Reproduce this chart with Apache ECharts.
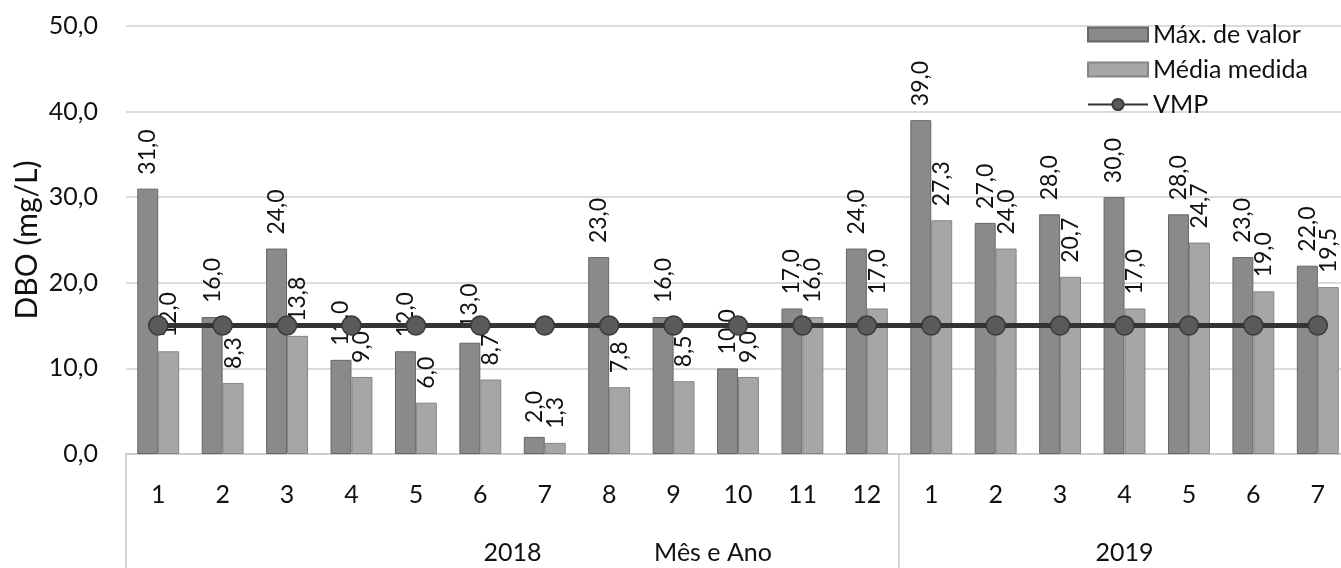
<!DOCTYPE html>
<html>
<head>
<meta charset="utf-8">
<script src="https://cdn.jsdelivr.net/npm/echarts@6/dist/echarts.min.js"></script>
<style>
html,body{margin:0;padding:0;background:#fff;}
#c{width:1341px;height:568px;}
</style>
</head>
<body>
<div id="c"></div>
<script>
// ---- data ----
const months = ['1','2','3','4','5','6','7','8','9','10','11','12','1','2','3','4','5','6','7'];
const years = ['2018','2018','2018','2018','2018','2018','2018','2018','2018','2018','2018','2018','2019','2019','2019','2019','2019','2019','2019'];
const maxValor = [31.0,16.0,24.0,11.0,12.0,13.0,2.0,23.0,16.0,10.0,17.0,24.0,39.0,27.0,28.0,30.0,28.0,23.0,22.0];
const mediaMedida = [12.0,8.3,13.8,9.0,6.0,8.7,1.3,7.8,8.5,9.0,16.0,17.0,27.3,24.0,20.7,17.0,24.7,19.0,19.5];
const vmp = [15,15,15,15,15,15,15,15,15,15,15,15,15,15,15,15,15,15,15];
const yTicks = [0,10,20,30,40,50];

// year groups derived from years array
const groups = [];
years.forEach((y,i)=>{
  if(!groups.length || groups[groups.length-1].year!==y) groups.push({year:y,start:i,count:1});
  else groups[groups.length-1].count++;
});
const groupCenters = groups.map(g=>g.start+g.count/2);
const groupBounds = groups.map(g=>g.start);

const FONT = 'Lato';
const fmt = v => Number(v).toFixed(1).replace('.', ',');

const chart = echarts.init(document.getElementById('c'), null, {renderer:'canvas'});
const labelCfg = {
  show:true, position:'top', rotate:90, align:'left', verticalAlign:'middle',
  distance:14, color:'#111', fontFamily:FONT, fontSize:23,
  formatter: p => fmt(p.value)
};
chart.setOption({
  animation:false,
  textStyle:{fontFamily:FONT},
  grid:{left:126, right:-9, top:26, bottom:114, containLabel:false, outerBoundsMode:'none'},
  legend:{
    orient:'vertical', left:1082, top:17, itemGap:10,
    itemWidth:60, itemHeight:14,
    textStyle:{fontFamily:FONT, fontSize:25, color:'#111', lineHeight:25},
    data:[{name:'Máx. de valor', icon:'rect'},{name:'Média medida', icon:'rect'},{name:'VMP'}]
  },
  xAxis:[
    {
      type:'category', data:months, gridIndex:0,
      axisLine:{show:true, lineStyle:{color:'#c8c8c8', width:1.5}},
      axisTick:{show:false},
      axisLabel:{color:'#111', fontFamily:FONT, fontSize:25, margin:28, interval:0},
      splitLine:{show:false}
    },
    {
      type:'value', min:0, max:years.length, gridIndex:0, position:'bottom',
      axisLine:{show:false},
      axisTick:{show:true, customValues:groupBounds, length:116, lineStyle:{color:'#c8c8c8', width:1.5}},
      axisLabel:{show:true, customValues:groupCenters, margin:86, color:'#111', fontFamily:FONT, fontSize:25,
        formatter: v => { const g = groups.find(gg=>Math.abs(gg.start+gg.count/2 - v)<1e-6); return g?g.year:''; }},
      splitLine:{show:false},
      name:'Mês e Ano', nameLocation:'middle', nameGap:86, nameMoveOverlap:false,
      nameTextStyle:{color:'#111', fontFamily:FONT, fontSize:25, verticalAlign:'top', padding:[0,50,0,0]}
    }
  ],
  yAxis:{
    type:'value', min:0, max:50, interval:10,
    axisLine:{show:false}, axisTick:{show:false},
    axisLabel:{color:'#111', fontFamily:FONT, fontSize:25, margin:28, formatter:v=>fmt(v)},
    splitLine:{lineStyle:{color:'#d0d0d0', width:1.5}},
    name:'DBO (mg/L)', nameLocation:'middle', nameGap:84, nameMoveOverlap:false,
    nameTextStyle:{color:'#111', fontFamily:FONT, fontSize:30}
  },
  series:[
    {
      name:'Máx. de valor', type:'bar', xAxisIndex:0, data:maxValor,
      barGap:'0%', barCategoryGap:'35%',
      itemStyle:{color:'#8a8a8a', borderColor:'#666666', borderWidth:1},
      label:labelCfg, z:2
    },
    {
      name:'Média medida', type:'bar', xAxisIndex:0, data:mediaMedida,
      itemStyle:{color:'#a6a6a6', borderColor:'#858585', borderWidth:1},
      label:labelCfg, z:2
    },
    {
      name:'VMP', type:'line', xAxisIndex:0, data:vmp,
      symbol:'circle', symbolSize:19,
      lineStyle:{color:'#333333', width:5},
      itemStyle:{color:'#5a5a5a', borderColor:'#3a3a3a', borderWidth:1.5},
      z:3
    }
  ]
});
</script>
</body>
</html>
